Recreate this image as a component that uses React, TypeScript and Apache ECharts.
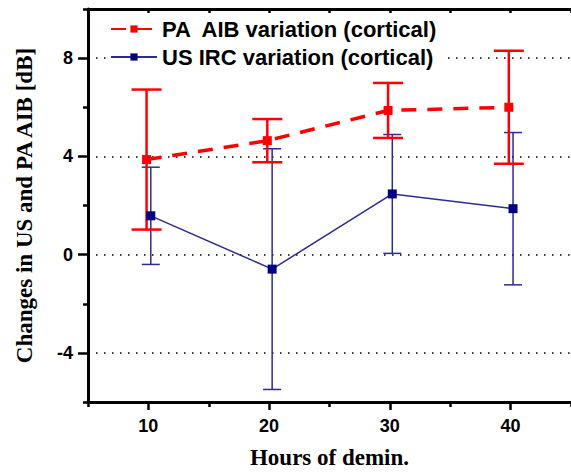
import React, { useEffect, useRef } from 'react';
import * as echarts from 'echarts';

const paName = 'PA  AIB variation (cortical)';
const usName = 'US IRC variation (cortical)';
const paHours = [9.85, 19.85, 29.85, 39.85];
const paValues = [3.87, 4.64, 5.87, 6.0];
const paErrors = [2.85, 0.88, 1.12, 2.3];
const usHours = [10.2, 20.25, 30.2, 40.2];
const usValues = [1.58, -0.59, 2.47, 1.87];
const usErrors = [1.98, 4.9, 2.42, 3.1];
const xMajorTicks = [10, 20, 30, 40];
const xMinorTicks = [5, 15, 25, 35, 45];
const yMajorTicks = [-4, 0, 4, 8];
const yMinorTicks = [-6, -2, 2, 6, 10];

const RED = '#ff0000';
const BLUE_LINE = '#2b2b93';
const BLUE_MARK = '#000080';

function errorSeries(hours: number[], vals: number[], errs: number[], color: string, width: number, cap: number) {
  return {
    type: 'custom',
    xAxisIndex: 0,
    yAxisIndex: 0,
    silent: true,
    data: hours.map((h, i) => [h, vals[i] - errs[i], vals[i] + errs[i]]),
    encode: { x: 0, y: [1, 2] },
    renderItem: (params: any, api: any) => {
      const x = api.value(0);
      const lo = api.coord([x, api.value(1)]);
      const hi = api.coord([x, api.value(2)]);
      const hw = cap / 2;
      const style = { stroke: color, lineWidth: width, fill: 'none' };
      return {
        type: 'group',
        children: [
          { type: 'line', shape: { x1: lo[0], y1: lo[1], x2: hi[0], y2: hi[1] }, style },
          { type: 'line', shape: { x1: hi[0] - hw, y1: hi[1], x2: hi[0] + hw, y2: hi[1] }, style },
          { type: 'line', shape: { x1: lo[0] - hw, y1: lo[1], x2: lo[0] + hw, y2: lo[1] }, style },
        ],
      };
    },
  };
}

export default function App() {
  const ref = useRef<HTMLDivElement>(null);
  useEffect(() => {
    if (!ref.current) return;
    const chart = echarts.init(ref.current, null, { renderer: 'svg' });
    const tickFont = { fontFamily: 'Liberation Sans', fontWeight: 'bold' as const, fontSize: 18, color: '#000' };
    const nameFont = { fontFamily: 'Liberation Serif', fontWeight: 'bold' as const, fontSize: 23, color: '#000' };
    const axisLine = { show: true, onZero: false, lineStyle: { color: '#000', width: 3 } };
    const tickStyle = { color: '#000', width: 2.5 };
    chart.setOption({
      animation: false,
      backgroundColor: '#fff',
      grid: { left: 88, top: 9, right: -4, bottom: 69, containLabel: false },
      legend: {
        data: [paName, usName],
        orient: 'vertical',
        left: 106,
        top: 16,
        z: 20,
        padding: [2, 4],
        backgroundColor: '#fff',
        itemGap: 6,
        itemWidth: 46,
        itemHeight: 9,
        textStyle: { fontFamily: 'Liberation Sans', fontWeight: 'bold', fontSize: 22, color: '#000' },
      },
      xAxis: [
        {
          type: 'value', position: 'bottom', min: 5, max: 45,
          axisLine,
          axisTick: { show: true, customValues: xMajorTicks, length: 8, lineStyle: tickStyle },
          axisLabel: { customValues: xMajorTicks, margin: 15, ...tickFont },
          splitLine: { show: false },
          name: 'Hours of demin.', nameLocation: 'middle', nameGap: 44, nameTextStyle: nameFont,
        },
        {
          type: 'value', position: 'bottom', min: 5, max: 45,
          axisLine: { show: false, onZero: false },
          axisTick: { show: true, customValues: xMinorTicks, length: 5, lineStyle: tickStyle },
          axisLabel: { show: false },
          splitLine: { show: false },
        },
        {
          type: 'value', position: 'top', min: 5, max: 45,
          axisLine,
          axisTick: { show: true, inside: true, customValues: [...xMajorTicks, ...xMinorTicks], length: 4, lineStyle: tickStyle },
          axisLabel: { show: false },
          splitLine: { show: false },
        },
      ],
      yAxis: [
        {
          type: 'value', position: 'left', min: -6, max: 10,
          axisLine,
          axisTick: { show: true, customValues: yMajorTicks, length: 10, lineStyle: tickStyle },
          axisLabel: { customValues: yMajorTicks, margin: 15, ...tickFont },
          splitLine: { show: false },
          name: 'Changes in US and PA AIB [dB]', nameLocation: 'middle', nameGap: 52, nameTextStyle: nameFont,
        },
        {
          type: 'value', position: 'left', min: -6, max: 10,
          axisLine: { show: false, onZero: false },
          axisTick: { show: true, customValues: yMinorTicks, length: 5, lineStyle: tickStyle },
          axisLabel: { show: false },
          splitLine: { show: false },
        },
      ],
      series: [
        {
          type: 'line', name: 'grid', xAxisIndex: 0, yAxisIndex: 0, data: [], silent: true, z: 1,
          markLine: {
            silent: true, symbol: 'none', label: { show: false }, z: 1,
            lineStyle: { color: '#000', type: [1.5, 6.5], width: 1.5 },
            data: yMajorTicks.map((v) => ({ yAxis: v })),
          },
        },
        errorSeries(usHours, usValues, usErrors, BLUE_LINE, 1.5, 18),
        errorSeries(paHours, paValues, paErrors, RED, 2.5, 30),
        {
          type: 'line', name: usName, xAxisIndex: 0, yAxisIndex: 0,
          data: usHours.map((h, i) => [h, usValues[i]]),
          symbol: 'rect', symbolSize: 9,
          lineStyle: { color: BLUE_LINE, width: 1.5 },
          itemStyle: { color: BLUE_MARK },
          z: 4,
        },
        {
          type: 'line', name: paName, xAxisIndex: 0, yAxisIndex: 0,
          data: paHours.map((h, i) => [h, paValues[i]]),
          symbol: 'rect', symbolSize: 9,
          lineStyle: { color: RED, width: 3.5, type: [15, 11] },
          itemStyle: { color: RED },
          z: 4,
        },
      ],
    });
    return () => chart.dispose();
  }, []);
  return <div ref={ref} style={{ position: 'fixed', left: 0, top: 0, width: 571, height: 474 }} />;
}
